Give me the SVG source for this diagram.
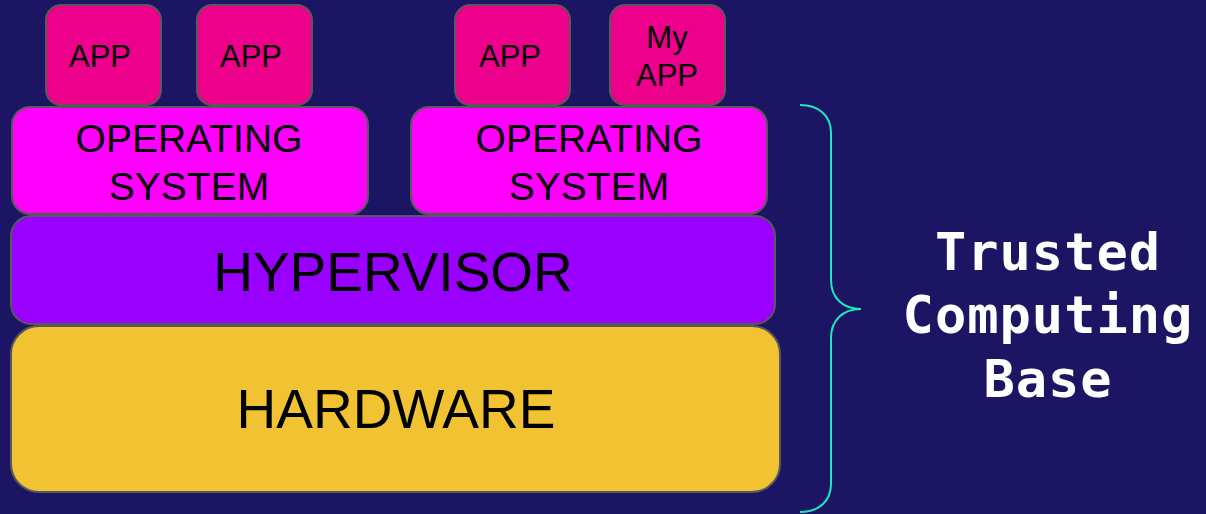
<svg xmlns="http://www.w3.org/2000/svg" width="1206" height="514" viewBox="0 0 1206 514">
  <style>
    .box { stroke: #595959; stroke-width: 2; }
    .app { fill: #ec008c; }
    .os { fill: #ff00ff; }
    .hv { fill: #9900ff; }
    .hw { fill: #f1c232; }
    .lbl { font-family: "Liberation Sans", Arial, sans-serif; fill: #000; text-anchor: middle; }
    .tcb { font-family: "DejaVu Sans Mono", monospace; font-weight: bold; font-size: 52px; letter-spacing: 1px; fill: #ffffff; text-anchor: middle; }
  </style>
  <rect width="1206" height="514" fill="#1c1563"/>

  <!-- Applications -->
  <g id="app1">
    <rect class="box app" x="46" y="5" width="115" height="100" rx="15"/>
    <text class="lbl" x="100" y="67" font-size="31">APP</text>
  </g>
  <g id="app2">
    <rect class="box app" x="197" y="5" width="115" height="100" rx="15"/>
    <text class="lbl" x="251" y="67" font-size="31">APP</text>
  </g>
  <g id="app3">
    <rect class="box app" x="455" y="5" width="115" height="100" rx="15"/>
    <text class="lbl" x="510" y="67" font-size="31">APP</text>
  </g>
  <g id="myapp">
    <rect class="box app" x="610" y="5" width="115" height="100" rx="15"/>
    <text class="lbl" x="667" y="48" font-size="31">My</text>
    <text class="lbl" x="667" y="86" font-size="31">APP</text>
  </g>

  <!-- Guest operating systems -->
  <g id="os1">
    <rect class="box os" x="12" y="107" width="356" height="107" rx="18"/>
    <text class="lbl" x="189" y="152" font-size="39">OPERATING</text>
    <text class="lbl" x="189" y="200" font-size="39">SYSTEM</text>
  </g>
  <g id="os2">
    <rect class="box os" x="411" y="107" width="356" height="107" rx="18"/>
    <text class="lbl" x="589" y="152" font-size="39">OPERATING</text>
    <text class="lbl" x="589" y="200" font-size="39">SYSTEM</text>
  </g>

  <!-- Hypervisor layer -->
  <g id="hypervisor">
    <rect class="box hv" x="11" y="216" width="764" height="108" rx="20"/>
    <text class="lbl" x="393" y="291" font-size="55">HYPERVISOR</text>
  </g>

  <!-- Hardware layer -->
  <g id="hardware">
    <rect class="box hw" x="11" y="326" width="769" height="166" rx="28"/>
    <text class="lbl" x="396" y="428" font-size="55">HARDWARE</text>
  </g>

  <!-- Brace grouping the trusted layers -->
  <g id="connectors">
    <path d="M800,105 C818,105 831,115 831,133 L831,280 C831,298 843,309 861,309 C843,309 831,320 831,338 L831,484 C831,502 818,512 800,512" fill="none" stroke="#1de9c0" stroke-width="2"/>
  </g>

  <g id="tcb-label">
    <text class="tcb" x="1048" y="270">Trusted</text>
    <text class="tcb" x="1048" y="333">Computing</text>
    <text class="tcb" x="1048" y="397">Base</text>
  </g>
</svg>
